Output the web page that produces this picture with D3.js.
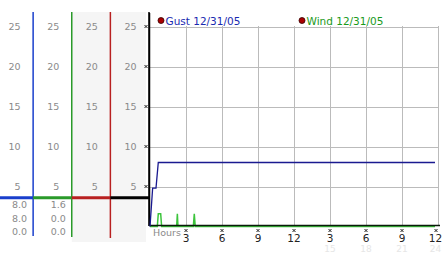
<!DOCTYPE html>
<html>
<head>
<meta charset="utf-8">
<script src="https://cdn.jsdelivr.net/npm/d3@7"></script>
<style>
  body { margin: 0; background: #fff; }
  text { font-family: 'DejaVu Sans', Verdana, sans-serif; }
</style>
</head>
<body>
<div id="chart"></div>
<script>
// gust series (hours since start, mph)
const gustHours = [0, 0.22, 0.5, 0.69, 23.75];
const gustValues = [0, 4.8, 4.8, 8, 8];

// wind series
const windHours = [0, 0.61, 0.69, 0.89, 0.97, 2.22, 2.28, 2.33, 3.61, 3.69, 3.77, 23.75];
const windValues = [0, 0, 1.6, 1.6, 0, 0, 1.6, 0, 0, 1.6, 0, 0];

const seriesNames = ['Gust 12/31/05', 'Wind 12/31/05'];
const yTicks = [5, 10, 15, 20, 25];
const xTicks = [3, 6, 9, 12, 15, 18, 21, 24];
const xTickLabels = ['3', '6', '9', '12', '3', '6', '9', '12'];
const xFaintLabels = ['', '', '', '', '15', '18', '21', '24'];

// readings under the side scales
const gustReadings = ['8.0', '8.0', '0.0'];
const windReadings = ['1.6', '0.0', '0.0'];
const markerLevel = 3.6;

const colColors = ['#1a3fcc', '#2a9a2a', '#b82020', '#000'];

const W = 442, H = 253;
const svg = d3.select('#chart').append('svg').attr('width', W).attr('height', H);

const x = d3.scaleLinear().domain([0, 24]).range([150, 438]);
const y = d3.scaleLinear().domain([0, 25]).range([226.5, 26.5]);
const col = d3.scaleLinear().domain([0, 4]).range([-5.5, 149]);

// left panel background
svg.append('rect')
  .attr('x', col(2)).attr('y', 12)
  .attr('width', 146 - col(2)).attr('height', 230)
  .attr('fill', '#f5f5f5');

// side scale labels
d3.range(4).forEach(i => {
  svg.append('g').selectAll('text')
    .data(yTicks)
    .enter()
    .append('text')
    .attr('x', col(i + 1) - 12.5)
    .attr('y', d => y(d))
    .attr('dy', '0.36em')
    .attr('text-anchor', 'end')
    .attr('font-size', 9.5)
    .attr('fill', '#8a8a8a')
    .text(d => d);
});

// side scale vertical lines
const lineBottoms = [236, 237, 238, 226];
colColors.forEach((c, i) => {
  svg.append('line')
    .attr('x1', col(i + 1)).attr('x2', col(i + 1))
    .attr('y1', 12).attr('y2', lineBottoms[i])
    .attr('stroke', c).attr('stroke-width', 1.5);
  svg.append('line')
    .attr('x1', col(i)).attr('x2', col(i + 1))
    .attr('y1', y(markerLevel)).attr('y2', y(markerLevel))
    .attr('stroke', c).attr('stroke-width', 3);
});

// readings
[gustReadings, windReadings].forEach((vals, i) => {
  svg.append('g').selectAll('text')
    .data(vals)
    .enter()
    .append('text')
    .attr('x', col(i + 1) - 6)
    .attr('y', (d, j) => 205 + j * 13.5)
    .attr('dy', '0.36em')
    .attr('text-anchor', 'end')
    .attr('font-size', 9.5)
    .attr('fill', '#8a8a8a')
    .text(d => d);
});

// grid
svg.append('g').selectAll('line')
  .data(yTicks)
  .enter()
  .append('line')
  .attr('x1', x(0)).attr('x2', x(24))
  .attr('y1', d => Math.round(y(d)) + 0.5).attr('y2', d => Math.round(y(d)) + 0.5)
  .attr('stroke', '#bbb');

svg.append('g').selectAll('line')
  .data(xTicks)
  .enter()
  .append('line')
  .attr('x1', d => Math.round(x(d)) + 0.5).attr('x2', d => Math.round(x(d)) + 0.5)
  .attr('y1', 26).attr('y2', 226)
  .attr('stroke', '#bbb');

// tiny tick marks
const mark = (g, cx, cy) => {
  g.append('path')
    .attr('d', `M${cx - 1.5},${cy - 1.5}L${cx + 1.5},${cy + 1.5}M${cx + 1.5},${cy - 1.5}L${cx - 1.5},${cy + 1.5}`)
    .attr('stroke', '#222').attr('stroke-width', 1).attr('fill', 'none');
};
const marks = svg.append('g');
yTicks.forEach(d => mark(marks, 146, y(d)));
xTicks.forEach(d => mark(marks, Math.min(x(d), 436), 230.5));

// y axis line
svg.append('line')
  .attr('x1', 149.5).attr('x2', 149.5).attr('y1', 13).attr('y2', 226)
  .attr('stroke', '#000').attr('stroke-width', 1.5);

// series
const line = d3.line().x(d => x(d[0])).y(d => y(d[1]));

svg.append('path')
  .datum(windHours.map((h, i) => [h, windValues[i]]))
  .attr('d', line)
  .attr('fill', 'none')
  .attr('stroke', '#3cc43c')
  .attr('stroke-width', 1.5);

svg.append('line')
  .attr('x1', 149).attr('x2', 440).attr('y1', 225.5).attr('y2', 225.5)
  .attr('stroke', '#0a1a0a').attr('stroke-width', 1.5);

svg.append('path')
  .datum(gustHours.map((h, i) => [h, gustValues[i]]))
  .attr('d', line)
  .attr('fill', 'none')
  .attr('stroke', '#1a1a90')
  .attr('stroke-width', 1.3);

// x labels
svg.append('text')
  .attr('x', 153).attr('y', 235.5)
  .attr('font-size', 9.5).attr('fill', '#8a8a8a')
  .text('Hours');

svg.append('g').selectAll('text')
  .data(xTicks)
  .enter()
  .append('text')
  .attr('x', d => Math.min(x(d), 435.5))
  .attr('y', 241.5)
  .attr('text-anchor', 'middle')
  .attr('font-size', 10.5)
  .attr('fill', '#222')
  .text((d, i) => xTickLabels[i]);

svg.append('g').selectAll('text')
  .data(xTicks)
  .enter()
  .append('text')
  .attr('x', d => Math.min(x(d), 435.5))
  .attr('y', 251.5)
  .attr('text-anchor', 'middle')
  .attr('font-size', 9)
  .attr('fill', '#e6e6e6')
  .text((d, i) => xFaintLabels[i]);

// legend
const legendColors = ['#1a2ab0', '#1a9a1a'];
const legendX = [161, 302];
seriesNames.forEach((name, i) => {
  svg.append('circle')
    .attr('cx', legendX[i]).attr('cy', 20.5).attr('r', 3)
    .attr('fill', '#a00').attr('stroke', '#300').attr('stroke-width', 0.8);
  svg.append('text')
    .attr('x', legendX[i] + 4.5).attr('y', 24.5)
    .attr('font-size', 10.5).attr('fill', legendColors[i])
    .text(name);
});
</script>
</body>
</html>
